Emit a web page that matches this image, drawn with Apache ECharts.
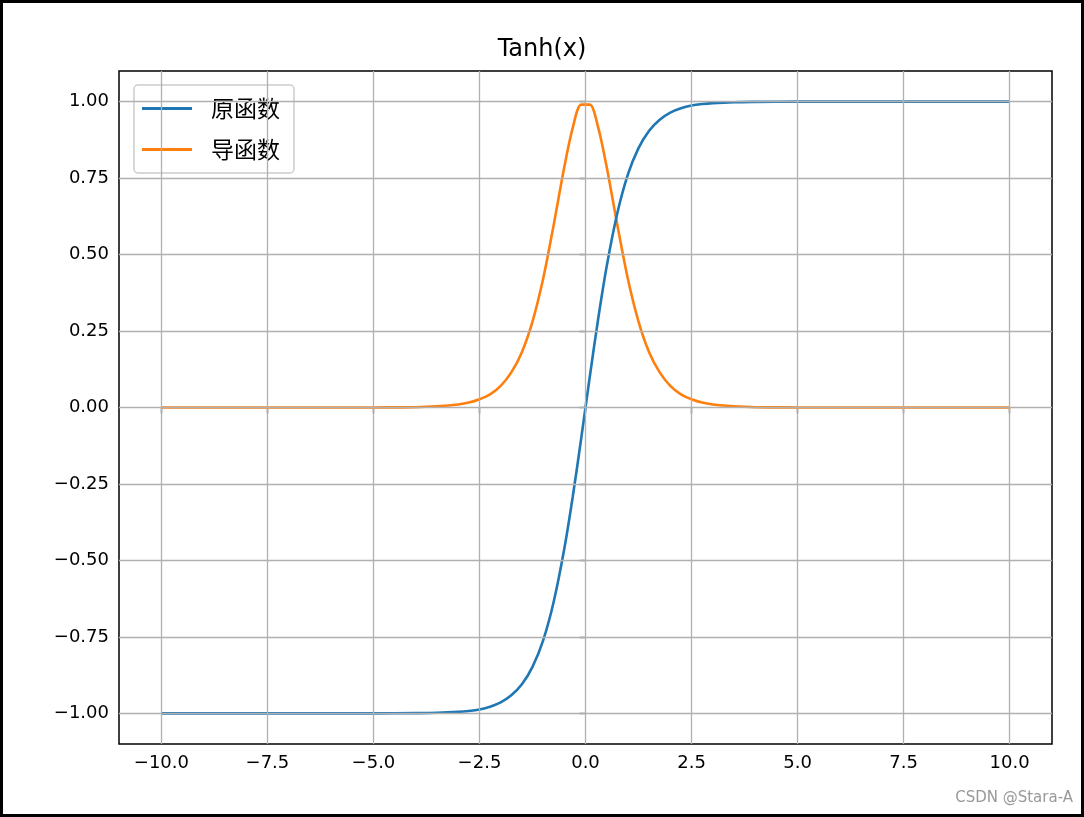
<!DOCTYPE html>
<html><head><meta charset="utf-8">
<script src="https://cdn.jsdelivr.net/npm/echarts@6/dist/echarts.min.js"></script>
<style>html,body{margin:0;padding:0;background:#fff}#c{width:1084px;height:817px;box-sizing:border-box;border:3px solid #000}</style>
</head><body><div id="c"></div>
<script>
const xs = [-10,-8,-6,-5,-4,-3.5,-3,-2.75,-2.5,-2.25,-2,-1.75,-1.5,-1.25,-1,-0.75,-0.5,-0.3,-0.1,0.1,0.3,0.5,0.75,1,1.25,1.5,1.75,2,2.25,2.5,2.75,3,3.5,4,5,6,8,10];
const tanhVals = [-1,-1,-1,-1,-0.999,-0.998,-0.995,-0.992,-0.987,-0.978,-0.964,-0.941,-0.905,-0.848,-0.762,-0.635,-0.462,-0.291,-0.0997,0.0997,0.291,0.462,0.635,0.762,0.848,0.905,0.941,0.964,0.978,0.987,0.992,0.995,0.998,0.999,1,1,1,1];
const derivVals = [0,0,0,0.0002,0.001,0.004,0.010,0.016,0.027,0.043,0.071,0.115,0.181,0.281,0.420,0.597,0.786,0.915,0.990,0.990,0.915,0.786,0.597,0.420,0.281,0.181,0.115,0.071,0.043,0.027,0.016,0.010,0.004,0.001,0.0002,0,0,0];
const xTicks = [-10,-7.5,-5,-2.5,0,2.5,5,7.5,10];
const yTicks = [-1,-0.75,-0.5,-0.25,0,0.25,0.5,0.75,1];
const font = "'DejaVu Sans', sans-serif";
const fmt = (v,d)=> (v<0?'\u2212':'')+Math.abs(v).toFixed(d);
const gridStyle = {color:'#b0b0b0',width:1.3,type:'solid'};
const chart = echarts.init(document.getElementById('c'));
chart.setOption({
  animation:false,
  title:{text:'Tanh(x)',left:'center',top:30,textStyle:{fontFamily:font,fontWeight:'normal',fontSize:24,color:'#000'}},
  grid:{left:116,right:29,top:68,bottom:70,show:true,borderColor:'#000',borderWidth:1.5,containLabel:false},
  legend:{orient:'vertical',left:131,top:82,padding:[12,14,12,8],itemGap:18,itemWidth:50,itemHeight:14,
    borderColor:'#ccc',borderWidth:1.5,borderRadius:4,backgroundColor:'#fff',
    textStyle:{fontFamily:"'Noto Sans CJK SC', sans-serif",fontSize:23,color:'#000',padding:[0,0,0,14]},
    data:[{name:'原函数',icon:'path://M0,6h40v2.4h-40z'},{name:'导函数',icon:'path://M0,6h40v2.4h-40z'}]},
  xAxis:{type:'value',min:-11,max:11,splitLine:{show:false},
    axisLine:{show:false},
    axisTick:{show:true,length:6,lineStyle:{color:'#000',width:1.3},customValues:xTicks},
    axisLabel:{customValues:xTicks,formatter:v=>fmt(v,1),fontFamily:font,fontSize:18,color:'#000',margin:10}},
  yAxis:{type:'value',min:-1.1,max:1.1,splitLine:{show:false},
    axisLine:{show:false},
    axisTick:{show:true,length:6,lineStyle:{color:'#000',width:1.3},customValues:yTicks},
    axisLabel:{customValues:yTicks,formatter:v=>fmt(v,2),fontFamily:font,fontSize:18,color:'#000',margin:10}},
  series:[
    {type:'line',data:[],z:1,silent:true,markLine:{silent:true,symbol:'none',label:{show:false},lineStyle:gridStyle,animation:false,
      data:xTicks.map(v=>({xAxis:v})).concat(yTicks.map(v=>({yAxis:v})))}},
    {name:'原函数',type:'line',data:xs.map((x,i)=>[x,tanhVals[i]]),showSymbol:false,smooth:0.3,lineStyle:{width:2.6,color:'#1f77b4'},itemStyle:{color:'#1f77b4'},z:3},
    {name:'导函数',type:'line',data:xs.map((x,i)=>[x,derivVals[i]]),showSymbol:false,smooth:0.3,lineStyle:{width:2.6,color:'#ff7f0e'},itemStyle:{color:'#ff7f0e'},z:2}
  ],
  graphic:[{type:'text',right:8,bottom:8,style:{text:'CSDN @Stara-A',fontFamily:font,fontSize:15,fill:'#999'}}]
});
</script></body></html>
